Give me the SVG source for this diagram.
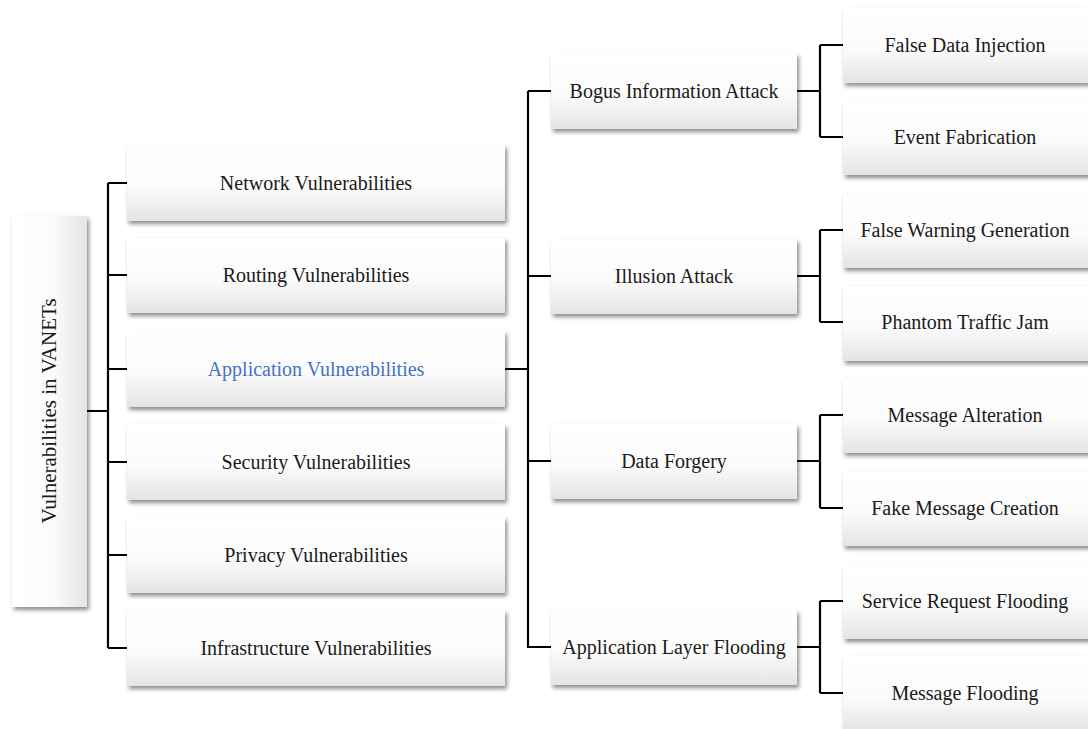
<svg xmlns="http://www.w3.org/2000/svg" width="1088" height="729" viewBox="0 0 1088 729">
  <defs>
    <linearGradient id="boxFill" x1="0" y1="0" x2="0" y2="1">
      <stop offset="0" stop-color="#ffffff"/>
      <stop offset="0.55" stop-color="#fbfbfb"/>
      <stop offset="1" stop-color="#e4e4e4"/>
    </linearGradient>
    <linearGradient id="rootFill" x1="0" y1="0" x2="1" y2="0">
      <stop offset="0" stop-color="#ffffff"/>
      <stop offset="0.55" stop-color="#fbfbfb"/>
      <stop offset="1" stop-color="#e4e4e4"/>
    </linearGradient>
    <filter id="shadow" x="-10%" y="-10%" width="125%" height="130%">
      <feDropShadow dx="2" dy="3" stdDeviation="2" flood-color="#000" flood-opacity="0.45"/>
    </filter>
  </defs>
  <style>
    .box { fill: url(#boxFill); filter: url(#shadow); }
    .root { fill: url(#rootFill); filter: url(#shadow); }
    .label { font-family: "Liberation Serif", "Times New Roman", serif; font-size: 20px; fill: #1a1a1a; text-anchor: middle; dominant-baseline: central; }
    .big { font-size: 21px; }
    .blue { fill: #4472c4; }
    .wire { fill: none; stroke: #000; stroke-width: 2.2; }
  </style>

  <rect width="1088" height="729" fill="#ffffff"/>

  <!-- connectors -->
  <g id="connectors">
    <!-- root to level 1 -->
    <path class="wire" d="M87 411 H108 M108 183 V648 M108 183 H127 M108 275 H127 M108 369 H127 M108 462 H127 M108 555 H127 M108 648 H127"/>
    <!-- application vulnerabilities to attack types -->
    <path class="wire" d="M505 369 H528 M528 91 V648 M528 91 H551 M528 276 H551 M528 461 H551 M528 647 H551"/>
    <!-- attack types to concrete attacks -->
    <path class="wire" d="M797 91 H820 M820 45 V137 M820 45 H843 M820 137 H843"/>
    <path class="wire" d="M797 276 H820 M820 230 V322 M820 230 H843 M820 322 H843"/>
    <path class="wire" d="M797 461 H820 M820 415 V508 M820 415 H843 M820 508 H843"/>
    <path class="wire" d="M797 647 H820 M820 601 V693 M820 601 H843 M820 693 H843"/>
  </g>

  <!-- root -->
  <g id="root">
    <rect class="root" x="12" y="216" width="75" height="391"/>
    <text class="label big" transform="translate(49 411) rotate(-90)">Vulnerabilities in VANETs</text>
  </g>

  <!-- level 1 -->
  <g id="network">
    <rect class="box" x="127" y="145" width="378" height="76"/>
    <text class="label" x="316" y="183">Network Vulnerabilities</text>
  </g>
  <g id="routing">
    <rect class="box" x="127" y="238" width="378" height="75"/>
    <text class="label" x="316" y="275">Routing Vulnerabilities</text>
  </g>
  <g id="application">
    <rect class="box" x="127" y="331" width="378" height="76"/>
    <text class="label blue" x="316" y="369">Application Vulnerabilities</text>
  </g>
  <g id="security">
    <rect class="box" x="127" y="424" width="378" height="76"/>
    <text class="label" x="316" y="462">Security Vulnerabilities</text>
  </g>
  <g id="privacy">
    <rect class="box" x="127" y="517" width="378" height="76"/>
    <text class="label" x="316" y="555">Privacy Vulnerabilities</text>
  </g>
  <g id="infrastructure">
    <rect class="box" x="127" y="610" width="378" height="76"/>
    <text class="label" x="316" y="648">Infrastructure Vulnerabilities</text>
  </g>

  <!-- level 2 -->
  <g id="bogus">
    <rect class="box" x="551" y="53" width="246" height="76"/>
    <text class="label" x="674" y="91">Bogus Information Attack</text>
  </g>
  <g id="illusion">
    <rect class="box" x="551" y="239" width="246" height="75"/>
    <text class="label" x="674" y="276">Illusion Attack</text>
  </g>
  <g id="forgery">
    <rect class="box" x="551" y="424" width="246" height="75"/>
    <text class="label" x="674" y="461">Data Forgery</text>
  </g>
  <g id="flooding">
    <rect class="box" x="551" y="610" width="246" height="75"/>
    <text class="label" x="674" y="647">Application Layer Flooding</text>
  </g>

  <!-- level 3 -->
  <g id="false-data">
    <rect class="box" x="843" y="8" width="246" height="75"/>
    <text class="label" x="965" y="45">False Data Injection</text>
  </g>
  <g id="event-fabrication">
    <rect class="box" x="843" y="100" width="246" height="75"/>
    <text class="label" x="965" y="137">Event Fabrication</text>
  </g>
  <g id="false-warning">
    <rect class="box" x="843" y="193" width="246" height="75"/>
    <text class="label" x="965" y="230">False Warning Generation</text>
  </g>
  <g id="phantom-jam">
    <rect class="box" x="843" y="286" width="246" height="75"/>
    <text class="label" x="965" y="322">Phantom Traffic Jam</text>
  </g>
  <g id="message-alteration">
    <rect class="box" x="843" y="378" width="246" height="75"/>
    <text class="label" x="965" y="415">Message Alteration</text>
  </g>
  <g id="fake-message">
    <rect class="box" x="843" y="471" width="246" height="75"/>
    <text class="label" x="965" y="508">Fake Message Creation</text>
  </g>
  <g id="service-request">
    <rect class="box" x="843" y="564" width="246" height="75"/>
    <text class="label" x="965" y="601">Service Request Flooding</text>
  </g>
  <g id="message-flooding">
    <rect class="box" x="843" y="656" width="246" height="76"/>
    <text class="label" x="965" y="693">Message Flooding</text>
  </g>
</svg>
